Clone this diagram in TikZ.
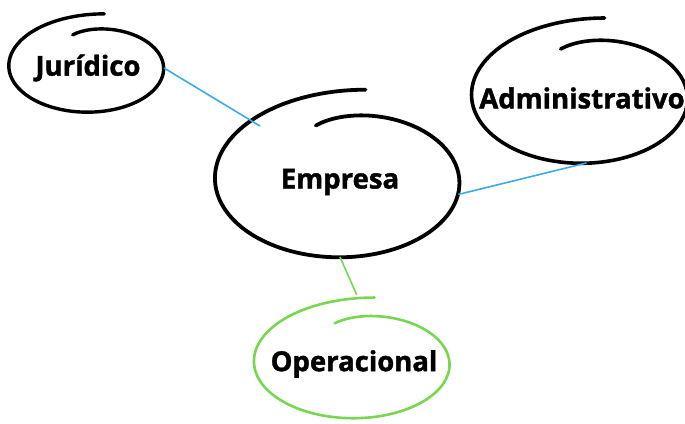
\documentclass[tikz,border=0pt]{standalone}
\usepackage{fontspec}
\setmainfont{Open Sans}[BoldFeatures={FakeBold=1.4}]
\usepackage{tikz}
\usetikzlibrary{shapes.geometric}

\definecolor{linkblue}{RGB}{60,170,230}
\definecolor{opgreen}{RGB}{120,215,80}

\tikzset{
	topic/.style={ellipse, draw=none, inner sep=0pt, outer sep=0pt, font=\fontsize{27.5}{30}\selectfont\bfseries},
	ring/.style={line cap=round, line join=round},
	link/.style={line width=1.6pt, linkblue}
}

\begin{document}
\begin{tikzpicture}[x=1pt, y=1pt]
	\useasboundingbox (0,0) rectangle (685,423);
	\foreach \name/\txt/\px/\py/\rx/\ry/\col/\lw in {jur/Jurídico/88/355/76/44/black/3.4, emp/Empresa/340/241/120/75/black/3.8, adm/Administrativo/582/325/106/65/black/3.6, ope/Operacional/354/59/96/54/opgreen/2.6} {
		\node[topic, minimum width=2*\rx*1pt, minimum height=2*\ry*1pt] (\name) at (\px,\py) {\txt};
		
		% hand drawn ring: one turn and a bit, opening outward at the end
		\draw[ring, \col, line width=\lw pt, shift={(\name.center)}]
			plot[smooth, domain=0.0001:0.9999, samples=90, variable=\t]
			({\rx*(1+0.25*\t^6-0.22*(1-\t)^12)*cos(105-385*\t)}, {\ry*(1+0.25*\t^6-0.22*(1-\t)^12)*sin(105-385*\t)});
	}
	
	% links to the center
	\draw[link] (jur.0) -- (emp.145);
	\draw[link] (adm.-86) -- (emp.-6);
	\draw[link, opgreen, shorten >=17pt] (emp.-90) -- (ope.80);
\end{tikzpicture}
\end{document}
